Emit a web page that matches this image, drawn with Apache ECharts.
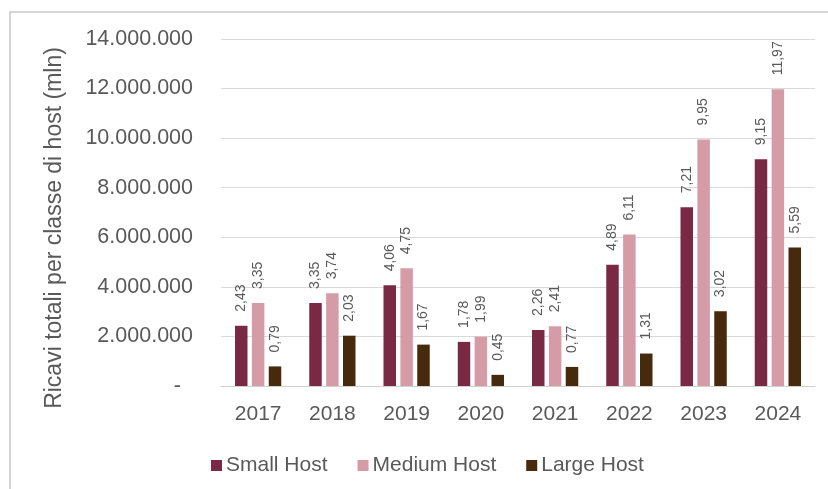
<!DOCTYPE html>
<html>
<head>
<meta charset="utf-8">
<script src="https://cdn.jsdelivr.net/npm/echarts@6/dist/echarts.min.js"></script>
<style>
  html, body { margin: 0; padding: 0; background: #ffffff; }
  #chart { width: 828px; height: 489px; }
</style>
</head>
<body>
<div id="chart"></div>
<script>
// Revenue per host class, in millions of euro
const years = ['2017', '2018', '2019', '2020', '2021', '2022', '2023', '2024'];
const smallHost  = [2.43, 3.35, 4.06, 1.78, 2.26, 4.89, 7.21, 9.15];
const mediumHost = [3.35, 3.74, 4.75, 1.99, 2.41, 6.11, 9.95, 11.97];
const largeHost  = [0.79, 2.03, 1.67, 0.45, 0.77, 1.31, 3.02, 5.59];
const seriesNames = ['Small Host', 'Medium Host', 'Large Host'];
const axisTitle = 'Ricavi totali per classe di host (mln)';

const FONT = '"Liberation Sans", Arial, sans-serif';
const TEXT = '#595959';
const colors = ['#7a2944', '#d59ca8', '#47290e'];

// Italian thousands separator for the axis (values are stored in millions)
function fmtAxis(v) {
  if (v === 0) return '{dash|-}';
  return String(Math.round(v * 1000000)).replace(/\B(?=(\d{3})+(?!\d))/g, '.');
}
function fmtLabel(p) {
  return p.value.toFixed(2).replace('.', ',');
}

function barSeries(name, data, color) {
  return {
    name: name,
    type: 'bar',
    data: data,
    barWidth: 12.5,
    barGap: '35%',
    itemStyle: { color: color },
    label: {
      show: true,
      position: 'top',
      rotate: 90,
      align: 'left',
      verticalAlign: 'middle',
      distance: 14,
      formatter: fmtLabel,
      color: TEXT,
      fontFamily: FONT,
      fontSize: 14
    }
  };
}

const chart = echarts.init(document.getElementById('chart'), null, { renderer: 'canvas' });
chart.setOption({
  animation: false,
  backgroundColor: '#ffffff',
  textStyle: { fontFamily: FONT },
  graphic: [{
    type: 'rect',
    shape: { x: 10, y: 12, width: 1000, height: 1000 },
    style: { fill: 'none', stroke: '#c8c8c8', lineWidth: 1.5 },
    silent: true
  }, {
    // vertical axis title
    type: 'text',
    x: 55,
    y: 228,
    rotation: Math.PI / 2,
    style: {
      text: axisTitle,
      fill: TEXT,
      font: '23px ' + FONT,
      align: 'center',
      verticalAlign: 'middle'
    },
    silent: true
  }],
  grid: { left: 221, right: 13, top: 39, bottom: 103, containLabel: false },
  legend: {
    data: seriesNames,
    left: 206,
    top: 450,
    itemWidth: 11,
    itemHeight: 11,
    itemGap: 30,
    icon: 'rect',
    textStyle: { color: TEXT, fontFamily: FONT, fontSize: 21, padding: [0, 0, 0, -1] }
  },
  xAxis: {
    type: 'category',
    data: years,
    axisLine: { show: true, lineStyle: { color: '#d0d0d0', width: 1 } },
    axisTick: { show: false },
    axisLabel: { color: TEXT, fontFamily: FONT, fontSize: 21, margin: 18 }
  },
  yAxis: {
    type: 'value',
    min: 0,
    max: 14,
    interval: 2,
    axisLine: { show: false },
    axisTick: { show: false },
    splitLine: { lineStyle: { color: '#d9d9d9', width: 1 } },
    axisLabel: {
      color: TEXT,
      fontFamily: FONT,
      fontSize: 21.5,
      margin: 28,
      formatter: fmtAxis,
      rich: { dash: { color: TEXT, fontFamily: FONT, fontSize: 21.5, padding: [0, 12, 0, 0] } }
    }
  },
  series: [
    barSeries(seriesNames[0], smallHost, colors[0]),
    barSeries(seriesNames[1], mediumHost, colors[1]),
    barSeries(seriesNames[2], largeHost, colors[2])
  ]
});
</script>
</body>
</html>
